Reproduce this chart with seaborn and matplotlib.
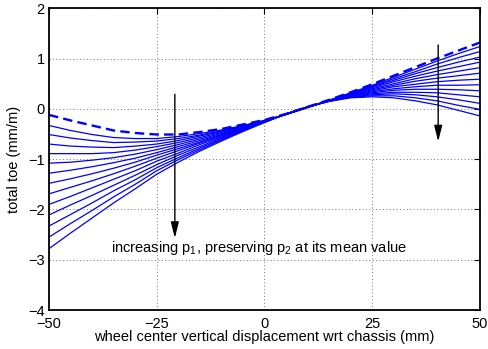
import matplotlib
matplotlib.use("Agg")
import matplotlib.pyplot as plt
import seaborn as sns
import pandas as pd

# wheel centre vertical displacement (mm)
x_mm = [-50, -45, -40, -35, -30, -25, -20, -15, -10, -5, 0,
        5, 10, 15, 20, 25, 30, 35, 40, 45, 50]

# total toe (mm/m) with both parameters at their mean values
toe_mean = [-0.12, -0.23, -0.33, -0.43, -0.48, -0.51, -0.51, -0.46, -0.40, -0.31, -0.22,
            -0.10, 0.04, 0.18, 0.33, 0.49, 0.66, 0.83, 1.00, 1.16, 1.32]

# total toe (mm/m) for increasing p1, p2 held at its mean value
toe_p1 = [
    [-0.33, -0.43, -0.51, -0.57, -0.59, -0.59, -0.55, -0.49, -0.42, -0.33, -0.23,
     -0.11, 0.03, 0.17, 0.32, 0.47, 0.63, 0.79, 0.95, 1.10, 1.24],
    [-0.51, -0.58, -0.63, -0.67, -0.66, -0.64, -0.59, -0.52, -0.44, -0.34, -0.23,
     -0.11, 0.03, 0.17, 0.31, 0.45, 0.60, 0.74, 0.89, 1.02, 1.14],
    [-0.70, -0.74, -0.76, -0.77, -0.74, -0.70, -0.63, -0.54, -0.45, -0.35, -0.24,
     -0.11, 0.03, 0.17, 0.31, 0.44, 0.57, 0.70, 0.82, 0.93, 1.03],
    [-0.89, -0.89, -0.89, -0.87, -0.82, -0.75, -0.67, -0.57, -0.47, -0.36, -0.24,
     -0.11, 0.03, 0.17, 0.30, 0.42, 0.54, 0.65, 0.75, 0.84, 0.93],
    [-1.08, -1.06, -1.02, -0.97, -0.90, -0.81, -0.71, -0.60, -0.49, -0.37, -0.24,
     -0.11, 0.03, 0.16, 0.29, 0.40, 0.50, 0.60, 0.68, 0.75, 0.82],
    [-1.28, -1.22, -1.15, -1.07, -0.98, -0.87, -0.75, -0.63, -0.51, -0.38, -0.25,
     -0.11, 0.03, 0.16, 0.28, 0.38, 0.47, 0.55, 0.61, 0.66, 0.71],
    [-1.48, -1.39, -1.29, -1.18, -1.06, -0.92, -0.79, -0.66, -0.52, -0.39, -0.25,
     -0.11, 0.03, 0.16, 0.27, 0.36, 0.44, 0.49, 0.54, 0.57, 0.59],
    [-1.69, -1.56, -1.43, -1.29, -1.14, -0.98, -0.83, -0.68, -0.54, -0.40, -0.25,
     -0.10, 0.04, 0.16, 0.26, 0.34, 0.40, 0.44, 0.47, 0.47, 0.48],
    [-1.90, -1.74, -1.57, -1.40, -1.23, -1.04, -0.88, -0.71, -0.56, -0.41, -0.26,
     -0.10, 0.04, 0.16, 0.26, 0.32, 0.37, 0.39, 0.39, 0.38, 0.36],
    [-2.11, -1.91, -1.72, -1.52, -1.32, -1.11, -0.92, -0.75, -0.58, -0.42, -0.26,
     -0.10, 0.04, 0.16, 0.25, 0.30, 0.33, 0.33, 0.32, 0.28, 0.24],
    [-2.33, -2.10, -1.87, -1.63, -1.41, -1.17, -0.97, -0.78, -0.60, -0.43, -0.26,
     -0.10, 0.04, 0.15, 0.24, 0.28, 0.30, 0.28, 0.24, 0.18, 0.11],
    [-2.55, -2.28, -2.02, -1.75, -1.50, -1.23, -1.01, -0.81, -0.62, -0.44, -0.27,
     -0.10, 0.04, 0.15, 0.23, 0.26, 0.26, 0.22, 0.16, 0.07, -0.01],
    [-2.78, -2.47, -2.17, -1.87, -1.59, -1.30, -1.06, -0.84, -0.64, -0.45, -0.27,
     -0.10, 0.04, 0.15, 0.22, 0.24, 0.22, 0.16, 0.08, -0.03, -0.14],
]

x_ticks = [-50, -25, 0, 25, 50]
y_ticks = [-4, -3, -2, -1, 0, 1, 2]

sns.set_theme(style="white")
plt.rcParams["font.family"] = ["Liberation Sans", "DejaVu Sans"]
plt.rcParams["axes.unicode_minus"] = True

df = pd.DataFrame(
    [(k, x, v) for k, row in enumerate(toe_p1) for x, v in zip(x_mm, row)],
    columns=["curve", "x", "toe"],
)

fig = plt.figure(figsize=(4.88, 3.49), dpi=100)
ax = fig.add_axes([0.1004, 0.1117, 0.8832, 0.8645])

sns.lineplot(data=df, x="x", y="toe", units="curve", estimator=None,
             color="#0000ff", linewidth=0.9, ax=ax)
sns.lineplot(x=x_mm, y=toe_mean, color="#0000ff", linewidth=1.7, ax=ax)
ax.get_lines()[-1].set_linestyle((0, (4, 2.2)))

ax.set_xlim(-50, 50)
ax.set_ylim(-4, 2)
ax.set_xticks(x_ticks)
ax.set_yticks(y_ticks)
ax.tick_params(direction="in", top=True, right=True, length=4, width=0.8,
               labelsize=10.5, colors="black")
ax.tick_params(axis="x", pad=5)
ax.tick_params(axis="y", pad=3)
ax.grid(True, linestyle=(0, (1, 2.5)), color="0.45", linewidth=0.7)
for s in ax.spines.values():
    s.set_color("black")
    s.set_linewidth(1.3)

ax.set_xlabel("wheel center vertical displacement wrt chassis (mm)",
              fontsize=10.5, labelpad=-1, color="black")
ax.set_ylabel("total toe (mm/m)", fontsize=10.5, labelpad=5, color="black")

arrow = dict(arrowstyle="-|>,head_length=0.8,head_width=0.2", color="black",
             lw=1.0, shrinkA=0, shrinkB=0)
ax.annotate("", xy=(-20.8, -2.57), xytext=(-20.8, 0.29), arrowprops=arrow)
ax.annotate("", xy=(40.3, -0.65), xytext=(40.3, 1.27), arrowprops=arrow)
ax.text(-35.6, -2.76,
        r"increasing p$\mathregular{_1}$, preserving p$\mathregular{_2}$ at its mean value",
        fontsize=10.5, va="center", ha="left", color="black")

fig.savefig("out.png", dpi=100)
